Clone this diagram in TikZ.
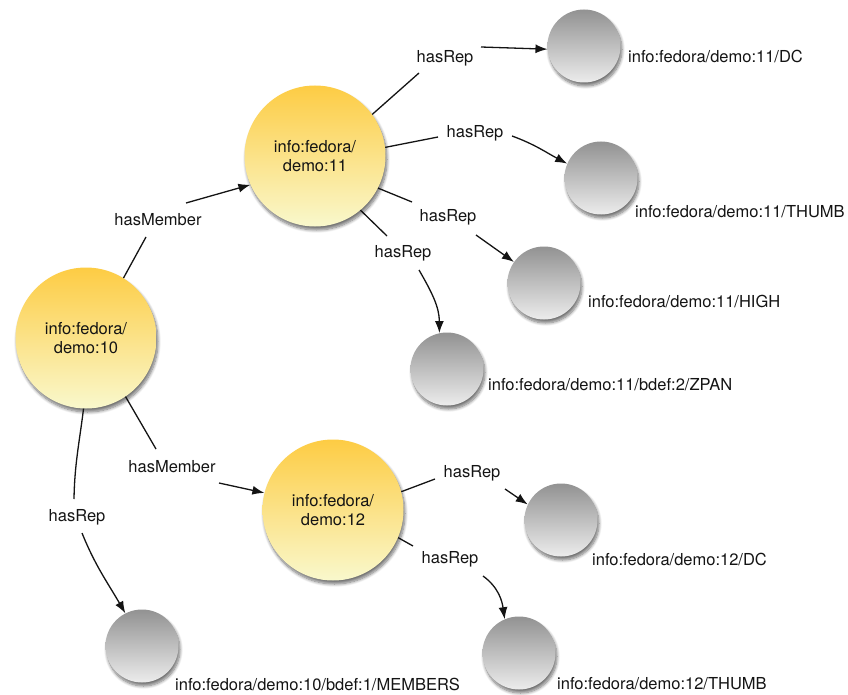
\documentclass[tikz,border=0pt]{standalone}
\usepackage{fontspec}
\setmainfont{TeX Gyre Heros}
\usetikzlibrary{arrows.meta,shadows.blur}

\definecolor{goldtop}{RGB}{253,204,68}
\definecolor{goldbot}{RGB}{249,248,204}
\definecolor{greytop}{RGB}{146,146,146}
\definecolor{greybot}{RGB}{236,236,236}
\definecolor{ink}{RGB}{20,20,20}

\tikzset{
  softshadow/.style={blur shadow={shadow xshift=1.5pt, shadow yshift=-3.5pt,
      shadow blur radius=3pt, shadow blur steps=8, shadow opacity=55}},
  objnode/.style={circle, inner sep=0pt, minimum size=141pt, draw=none,
      top color=goldtop, bottom color=goldbot, softshadow, text=ink,
      align=center, font=\fontsize{16.5}{19}\selectfont},
  repnode/.style={circle, inner sep=0pt, minimum size=73pt, draw=none,
      top color=greytop, bottom color=greybot, softshadow},
  rel/.style={inner sep=0pt, text=ink, font=\fontsize{16.5}{19}\selectfont},
  caption/.style={anchor=west, inner sep=0pt, text=ink,
      font=\fontsize{16.5}{19}\selectfont},
  link/.style={line width=1.3pt, ink},
  arrowlink/.style={link, -{Latex[length=12pt,width=9pt]}},
}

\begin{document}
\begin{tikzpicture}[x=1pt,y=1pt]
  \useasboundingbox (0,0) rectangle (848,-695);

  % objects
  \node[objnode] (d10) at (86,-338) {info:fedora/\\demo:10};
  \node[objnode] (d11) at (315,-156) {info:fedora/\\demo:11};
  \node[objnode] (d12) at (333,-510) {info:fedora/\\demo:12};

  % datastreams / disseminations
  \node[repnode] (dc11) at (584,-46) {};
  \node[repnode] (th11) at (601,-178) {};
  \node[repnode] (hi11) at (544,-283) {};
  \node[repnode] (zp11) at (447,-369) {};
  \node[repnode] (dc12) at (561,-520) {};
  \node[repnode] (th12) at (519,-653) {};
  \node[repnode] (mem)  at (142,-646) {};

  % captions
  \node[caption] (cdc11) at (628,-57)  {info:fedora/demo:11/DC};
  \node[caption] (cth11) at (635,-212) {info:fedora/demo:11/THUMB};
  \node[caption] (chi11) at (588,-302) {info:fedora/demo:11/HIGH};
  \node[caption] (czp11) at (488,-385) {info:fedora/demo:11/bdef:2/ZPAN};
  \node[caption] (cdc12) at (592,-559) {info:fedora/demo:12/DC};
  \node[caption] (cth12) at (557,-684) {info:fedora/demo:12/THUMB};
  \node[caption] (cmem)  at (175,-684) {info:fedora/demo:10/bdef:1/MEMBERS};

  % relation labels
  \node[rel] (m1)  at (158,-220) {hasMember};
  \node[rel] (m2)  at (172,-467) {hasMember};
  \node[rel] (r10) at (77,-517)  {hasRep};
  \node[rel] (r1)  at (445,-58)  {hasRep};
  \node[rel] (r2)  at (475,-133) {hasRep};
  \node[rel] (r3)  at (448,-217) {hasRep};
  \node[rel] (r4)  at (403,-253) {hasRep};
  \node[rel] (r5)  at (472,-473) {hasRep};
  \node[rel] (r6)  at (450,-559) {hasRep};

  % demo:10
  \draw[link] (d10.58) -- ([shift={(-12,-17)}]m1.center);
  \draw[arrowlink] ([shift={(28,17)}]m1.center) -- (d11.204);
  \draw[link] (d10.304) -- ([shift={(-16,18)}]m2.center);
  \draw[arrowlink] ([shift={(47,-16)}]m2.center) -- (d12.166);
  \draw[link] (d10.268) to[out=-97,in=89] ([shift={(-3,18)}]r10.center);
  \draw[arrowlink] ([shift={(5,-16)}]r10.center) to[out=-68,in=120] (mem.117);

  % demo:11
  \draw[link] (d11.36) -- ([shift={(-26,-15)}]r1.center);
  \draw[arrowlink] ([shift={(36,11)}]r1.center) -- (dc11.185);
  \draw[link] (d11.7) -- ([shift={(-37,-4)}]r2.center);
  \draw[arrowlink] ([shift={(37,-3)}]r2.center) to[out=-20,in=152] (th11.157);
  \draw[link] (d11.333) -- ([shift={(-36,15)}]r3.center);
  \draw[arrowlink] ([shift={(28,-18)}]r3.center) -- (hi11.145);
  \draw[link] (d11.310) -- ([shift={(-16,17)}]r4.center);
  \draw[arrowlink] ([shift={(16,-17)}]r4.center) to[out=-60,in=90] (zp11.102);

  % demo:12
  \draw[link] (d12.15) -- ([shift={(-37,-6)}]r5.center);
  \draw[arrowlink] ([shift={(33,-16)}]r5.center) -- (dc12.155);
  \draw[link] (d12.337) -- ([shift={(-37,13)}]r6.center);
  \draw[arrowlink] ([shift={(33,-17)}]r6.center) to[out=-36,in=98] (th12.113);
\end{tikzpicture}
\end{document}
